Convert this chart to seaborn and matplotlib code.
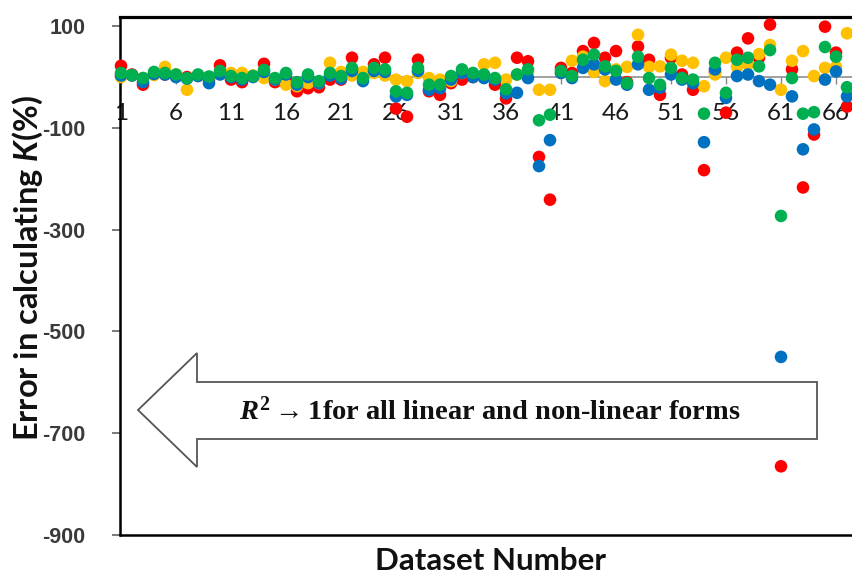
import matplotlib
matplotlib.use("Agg")
import matplotlib.pyplot as plt
import pandas as pd
import seaborn as sns
from matplotlib.patches import Polygon

# ---------------- data ----------------
dataset = list(range(1, 68))
tick_positions = [1, 6, 11, 16, 21, 26, 31, 36, 41, 46, 51, 56, 61, 66]
tick_labels = [str(t) for t in tick_positions]
y_ticks = [100, -100, -300, -500, -700, -900]

red_err = [22, 5, -15, 5, 5, 3, 0, 3, -5, 23,
           -5, -10, 2, 26, -10, -5, -28, -22, -20, -5,
           -5, 38, 0, 25, 38, -62, -78, 34, -28, -35,
           -12, -5, 0, 3, -15, -42, 38, 31, -157, -241,
           18, 8, 51, 67, 38, 51, -10, 60, 34, -35,
           38, 5, -25, -183, 10, -70, 48, 76, 38, 103,
           -765, 15, -217, -113, 99, 48, -58]
yellow_err = [0, 3, -2, 4, 20, 5, -25, 2, 0, 8,
              8, 8, 3, -2, -5, -15, -18, -12, -12, 28,
              10, 3, 10, 8, 3, -5, -8, 8, -2, -5,
              -8, 8, 5, 25, 28, -5, 5, 10, -25, -25,
              8, 32, 40, 10, -8, 15, 20, 83, 20, 21,
              44, 32, 28, -18, 5, 38, 20, 25, 45, 63,
              -25, 32, 51, 2, 18, 20, 86]
blue_err = [3, 3, -10, 6, 5, 0, -3, 2, -12, 5,
            0, -5, 0, 10, -5, 5, -15, 0, -12, 3,
            -3, 12, -8, 12, 10, -38, -35, 12, -25, -22,
            -5, 8, 0, -2, -5, -32, -31, -2, -175, -124,
            8, -2, 18, 25, 15, -5, -15, 25, -25, -21,
            5, -5, -12, -128, 15, -41, 2, 5, -8, -15,
            -550, -38, -142, -103, -5, 11, -38]
green_err = [8, 4, -2, 10, 8, 5, -2, 5, 1, 12,
             2, -2, 2, 14, -2, 8, -10, 5, -8, 8,
             2, 18, -2, 18, 15, -28, -31, 18, -15, -15,
             2, 15, 8, 5, -2, -24, 5, 15, -85, -74,
             12, 2, 34, 44, 21, 12, -12, 40, -2, -15,
             18, -2, -5, -72, 28, -31, 34, 38, 21, 53,
             -273, -2, -72, -69, 59, 40, -20]

series_names = ["red", "yellow", "blue", "green"]
series_values = [red_err, yellow_err, blue_err, green_err]
palette = {"red": "#FF0000", "yellow": "#FFC000", "blue": "#0070C0", "green": "#00B050"}

df = pd.concat(
    [pd.DataFrame({"dataset": dataset, "error": vals, "series": name})
     for name, vals in zip(series_names, series_values)],
    ignore_index=True)

# ---------------- style ----------------
sns.set_theme(style="white")
plt.rcParams["font.family"] = ["Lato", "DejaVu Sans"]
plt.rcParams["mathtext.fontset"] = "custom"
plt.rcParams["mathtext.bfit"] = "Lato:italic:bold"
plt.rcParams["mathtext.it"] = "Liberation Serif:italic:bold"
plt.rcParams["mathtext.rm"] = "Liberation Serif:bold"

W, H = 852, 577
fig = plt.figure(figsize=(W / 100, H / 100), dpi=100)
ax = fig.add_axes([120 / W, 42 / H, 732 / W, 518 / H])

sns.scatterplot(data=df, x="dataset", y="error", hue="series",
                palette=palette, s=82, linewidth=0, alpha=1,
                legend=False, ax=ax, clip_on=False, zorder=3)

ax.set_xlim(1 - 1 / 11, 1 - 1 / 11 + 732 / 11)
ax.set_ylim(-900, 118)

# x axis crosses at zero
ax.spines["bottom"].set_position(("data", 0))
ax.spines["bottom"].set_color("#868686")
ax.spines["bottom"].set_linewidth(1.1)
ax.spines["bottom"].set_zorder(1)
ax.spines["right"].set_visible(False)
ax.spines["top"].set_color("black")
ax.spines["top"].set_linewidth(2.3)
ax.spines["left"].set_color("black")
ax.spines["left"].set_linewidth(1.8)
ax.axhline(-900, color="black", lw=1.8, clip_on=False, zorder=2)

ax.set_xticks(tick_positions)
ax.set_xticklabels(tick_labels)
ax.tick_params(axis="x", bottom=True, direction="out", length=5, width=1,
               color="#868686", labelsize=17.5, labelcolor="#1a1a1a", pad=14)
ax.set_yticks(y_ticks)
ax.set_yticklabels([str(v) for v in y_ticks], fontfamily=["Liberation Sans"],
                   fontweight="bold")
ax.tick_params(axis="y", left=True, direction="out", length=5.8, width=1.1,
               color="#555555", labelsize=15.5, labelcolor="#3a3a3a", pad=19)

ax.set_xlabel("Dataset Number", fontsize=22.5, fontweight="bold", color="#111111")
ax.xaxis.set_label_coords((491 - 120) / 732, (535 - 547) / 518)
ax.set_ylabel(r"Error in calculating $\mathbfit{K}$(%)", fontsize=23.5,
              fontweight="bold", color="#111111", va="center")
ax.yaxis.set_label_coords((28 - 120) / 732, (535 - 268) / 518)

# block arrow annotation
pts_px = [(138, 410), (197, 353), (197, 382), (817, 382),
          (817, 439), (197, 439), (197, 467)]
pts = [(x / W, 1 - y / H) for x, y in pts_px]
arrow = Polygon(pts, closed=True, transform=fig.transFigure,
                facecolor="white", edgecolor="#555555", lw=1.3, zorder=5)
fig.patches.append(arrow)
fig.text(490 / W, 1 - 411 / H,
         r"$R^2\rightarrow$1for all linear and non-linear forms",
         ha="center", va="center", fontsize=20.5, fontfamily=["Liberation Serif"],
         fontweight="bold", color="#111111", zorder=6)

fig.savefig("out.png", dpi=100)
